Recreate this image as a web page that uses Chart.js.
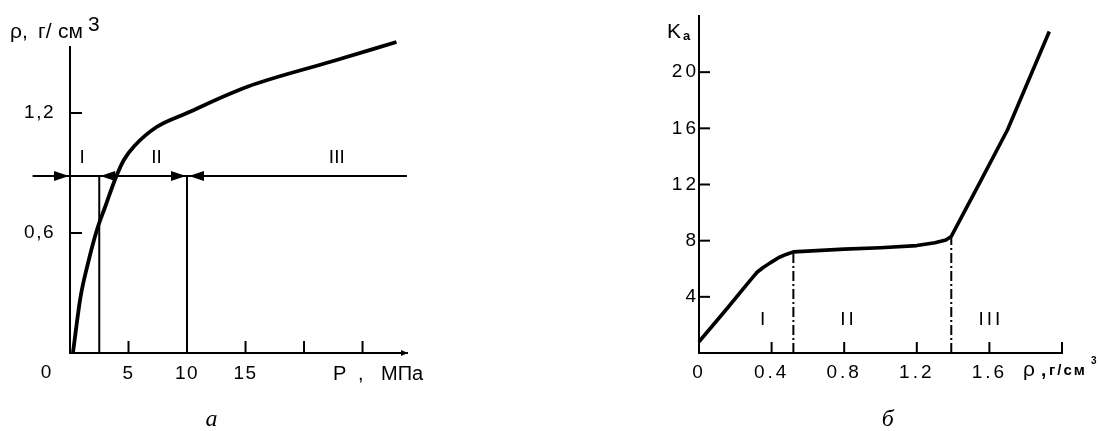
<!DOCTYPE html>
<html><head><meta charset="utf-8">
<script src="https://cdn.jsdelivr.net/npm/chart.js@4.4.1/dist/chart.umd.min.js"></script>
<style>
html,body{margin:0;padding:0;background:#fff;width:1098px;height:431px;overflow:hidden}
canvas{position:absolute;top:0}
#c1{left:0}
#c2{left:640px}
</style></head><body>
<canvas id="c1" width="440" height="431"></canvas>
<canvas id="c2" width="458" height="431"></canvas>
<script>
// ---------- Chart "а": density vs pressure ----------
const pressureP   = [0.25, 0.9, 1.5, 2.3, 3.0, 3.9, 4.6, 5.5, 7.4, 10.0, 15.1, 22.5, 27.9];
const densityRho  = [0.0, 0.28, 0.44, 0.615, 0.73, 0.875, 0.965, 1.035, 1.13, 1.2, 1.33, 1.46, 1.555];
const pTicks      = [0, 5, 10, 15, 20, 25];
const pTickLabels = ['', '5', '10', '15', '', ''];
const rhoTicks      = [0.6, 1.2];
const rhoTickLabels = ['0,6', '1,2'];
const zoneBoundaryP = [2.5, 10];
const zoneLevelRho  = 0.885;
const zoneLineP     = [-3.2, 28.8];
const zoneNames     = ['I', 'II', 'III'];

// ---------- Chart "б": Ka vs density ----------
const densityX    = [0, 0.15, 0.29, 0.32, 0.35, 0.39, 0.44, 0.48, 0.52, 0.8, 1.0, 1.2, 1.3, 1.36, 1.39, 1.55, 1.70, 1.93];
const kaValues    = [0.8, 3.1, 5.3, 5.75, 6.05, 6.4, 6.8, 7.02, 7.2, 7.4, 7.5, 7.65, 7.85, 8.05, 8.3, 12.2, 15.9, 22.9];
const rhoXTicks      = [0, 0.4, 0.8, 1.2, 1.6, 2.0];
const rhoXTickLabels = ['0', '0.4', '0.8', '1.2', '1.6', ''];
const kaTicks        = [4, 8, 12, 16, 20];
const kaTickLabels   = ['4', '8', '12', '16', '20'];
const zoneBoundaryRho = [0.52, 1.39];
const zoneBoundaryKa  = [7.2, 8.3];

// label anchor positions (data units)
const leftZoneLabelAt  = {x: [1.03, 7.4, 22.8], y: 0.975};
const rightZoneLabelAt = {x: [0.35, 0.815, 1.60], y: 2.4};

const FONT = "'Liberation Sans', Arial, sans-serif";
Chart.defaults.font.family = FONT;
Chart.defaults.color = '#000';
const INK = '#000';

function fixTicks(values){ return s => { s.ticks = values.map(v => ({value: v})); }; }
function line(ctx,x1,y1,x2,y2,w){ ctx.beginPath(); ctx.lineWidth=w; ctx.strokeStyle=INK; ctx.moveTo(x1,y1); ctx.lineTo(x2,y2); ctx.stroke(); }
function arrow(ctx, tx, ty, dir, len, hw){
  ctx.beginPath(); ctx.fillStyle=INK;
  ctx.moveTo(tx, ty); ctx.lineTo(tx - dir*len, ty - hw); ctx.lineTo(tx - dir*len, ty + hw); ctx.closePath(); ctx.fill();
}
function txt(ctx, s, x, y, font, align, base){
  ctx.font = font; ctx.fillStyle = INK; ctx.textAlign = align || 'left'; ctx.textBaseline = base || 'alphabetic';
  ctx.fillText(s, x, y);
}

// ---------- left chart ----------
const leftPlugin = {
  id: 'leftDecor',
  beforeDraw(chart){ chart.ctx.letterSpacing = '1.5px'; },
  afterDraw(chart){
    const {ctx, chartArea: a, scales: {x, y}} = chart;
    ctx.save();
    ctx.letterSpacing = '0px';
    // inward ticks
    pTicks.forEach(v => { if (v > 0) { const p = x.getPixelForValue(v); line(ctx, p, a.bottom, p, a.bottom - 12, 2); } });
    rhoTicks.forEach(v => { const p = y.getPixelForValue(v); line(ctx, a.left, p, a.left + 12, p, 2); });
    // arrows on zone line
    const yl = y.getPixelForValue(zoneLevelRho);
    arrow(ctx, x.getPixelForValue(0) - 1, yl, 1, 15, 5);
    arrow(ctx, x.getPixelForValue(zoneBoundaryP[0]) + 1, yl, -1, 15, 5);
    arrow(ctx, x.getPixelForValue(zoneBoundaryP[1]) - 1, yl, 1, 15, 5);
    arrow(ctx, x.getPixelForValue(zoneBoundaryP[1]) + 2, yl, -1, 15, 5);
    // x-axis end arrow
    arrow(ctx, a.right + 1, a.bottom, 1, 7, 3);
    // zone names
    zoneNames.forEach((n, i) => txt(ctx, n, x.getPixelForValue(leftZoneLabelAt.x[i]), y.getPixelForValue(leftZoneLabelAt.y), '19px ' + FONT, 'center', 'middle'));
    // origin label
    txt(ctx, '0', a.left - 24, a.bottom + 20, '19px ' + FONT, 'center', 'middle');
    // axis titles
    txt(ctx, 'P', a.left + 263, a.bottom + 27, '20px ' + FONT);
    txt(ctx, ',', a.left + 288, a.bottom + 27, '20px ' + FONT);
    txt(ctx, 'МПа', a.left + 311, a.bottom + 27, '20px ' + FONT);
    txt(ctx, 'ρ,', a.left - 60, a.top - 9, '21px ' + FONT);
    txt(ctx, 'г/', a.left - 32, a.top - 9, '21px ' + FONT);
    txt(ctx, 'см', a.left - 12, a.top - 9, '21px ' + FONT);
    txt(ctx, '3', a.left + 18, a.top - 16, '21px ' + FONT);
    // caption
    txt(ctx, 'а', x.getPixelForValue(12.1), 426, 'italic 24px "Liberation Serif", serif', 'center');
    ctx.restore();
  }
};

new Chart(document.getElementById('c1'), {
  type: 'line',
  data: {
    datasets: [
      { data: pressureP.map((p, i) => ({x: p, y: densityRho[i]})), borderColor: INK, borderWidth: 3.8,
        cubicInterpolationMode: 'monotone', pointRadius: 0, clip: false },
      { data: zoneLineP.map(p => ({x: p, y: zoneLevelRho})), borderColor: INK, borderWidth: 2, pointRadius: 0, clip: false },
      { data: [{x: zoneBoundaryP[0], y: 0}, {x: zoneBoundaryP[0], y: zoneLevelRho}], borderColor: INK, borderWidth: 2, pointRadius: 0 },
      { data: [{x: zoneBoundaryP[1], y: 0}, {x: zoneBoundaryP[1], y: zoneLevelRho}], borderColor: INK, borderWidth: 2, pointRadius: 0 }
    ]
  },
  options: {
    responsive: false, animation: false,
    layout: { padding: { top: 47, right: 33, left: 0, bottom: 0 } },
    plugins: { legend: { display: false }, tooltip: { enabled: false } },
    scales: {
      x: { type: 'linear', min: 0, max: 28.8,
        afterBuildTicks: fixTicks(pTicks), afterFit: s => { s.height = 78; },
        grid: { display: false, drawTicks: false }, border: { display: true, color: INK, width: 2 },
        ticks: { autoSkip: false, maxRotation: 0, padding: 9, font: { size: 19 }, color: INK,
          callback: (v, i) => pTickLabels[i] } },
      y: { type: 'linear', min: 0, max: 1.53,
        afterBuildTicks: fixTicks(rhoTicks), afterFit: s => { s.width = 70; },
        grid: { display: false, drawTicks: false }, border: { display: true, color: INK, width: 2 },
        ticks: { autoSkip: false, padding: 15, font: { size: 19 }, color: INK,
          callback: (v, i) => rhoTickLabels[i] } }
    }
  },
  plugins: [leftPlugin]
});

// ---------- right chart ----------
const rightPlugin = {
  id: 'rightDecor',
  beforeDraw(chart){ chart.ctx.letterSpacing = '3px'; },
  afterDraw(chart){
    const {ctx, chartArea: a, scales: {x, y}} = chart;
    ctx.save();
    ctx.letterSpacing = '0px';
    rhoXTicks.forEach(v => { if (v > 0) { const p = x.getPixelForValue(v); line(ctx, p, a.bottom, p, a.bottom - 11, 2); } });
    kaTicks.forEach(v => { const p = y.getPixelForValue(v); line(ctx, a.left, p, a.left + 11, p, 2); });
    ctx.letterSpacing = '3px';
    zoneNames.forEach((n, i) => txt(ctx, n, x.getPixelForValue(rightZoneLabelAt.x[i]) + 1.5, y.getPixelForValue(rightZoneLabelAt.y), '19px ' + FONT, 'center', 'middle'));
    ctx.letterSpacing = '0px';
    txt(ctx, 'K', a.left - 32, a.top + 22, '21px ' + FONT);
    txt(ctx, 'a', a.left - 16, a.top + 24, 'bold 13px ' + FONT);
    txt(ctx, 'ρ', a.right - 39, a.bottom + 23, '21px ' + FONT);
    txt(ctx, ',', a.right - 21, a.bottom + 23, 'bold 19px ' + FONT);
    ctx.letterSpacing = '2px';
    txt(ctx, 'г/см', a.right - 13, a.bottom + 22, 'bold 15px ' + FONT);
    ctx.letterSpacing = '0px';
    txt(ctx, '3', a.right + 29, a.bottom + 11, 'bold 10px ' + FONT);
    txt(ctx, 'б', x.getPixelForValue(1.04), 426, 'italic 24px "Liberation Serif", serif', 'center');
    ctx.restore();
  }
};

const dashStyle = [10, 3, 2, 3];
new Chart(document.getElementById('c2'), {
  type: 'line',
  data: {
    datasets: [
      { data: densityX.map((r, i) => ({x: r, y: kaValues[i]})), borderColor: INK, borderWidth: 3.6,
        tension: 0, borderJoinStyle: 'round', pointRadius: 0, clip: false },
      { data: [{x: zoneBoundaryRho[0], y: 0}, {x: zoneBoundaryRho[0], y: zoneBoundaryKa[0]}], borderColor: INK, borderWidth: 2, borderDash: dashStyle, pointRadius: 0 },
      { data: [{x: zoneBoundaryRho[1], y: 0}, {x: zoneBoundaryRho[1], y: zoneBoundaryKa[1]}], borderColor: INK, borderWidth: 2, borderDash: dashStyle, pointRadius: 0 }
    ]
  },
  options: {
    responsive: false, animation: false,
    layout: { padding: { top: 16, right: 36, left: 0, bottom: 0 } },
    plugins: { legend: { display: false }, tooltip: { enabled: false } },
    scales: {
      x: { type: 'linear', min: 0, max: 2.0,
        afterBuildTicks: fixTicks(rhoXTicks), afterFit: s => { s.height = 78; },
        grid: { display: false, drawTicks: false }, border: { display: true, color: INK, width: 2 },
        ticks: { autoSkip: false, maxRotation: 0, padding: 8, font: { size: 19 }, color: INK,
          callback: (v, i) => rhoXTickLabels[i] } },
      y: { type: 'linear', min: 0, max: 24,
        afterBuildTicks: fixTicks(kaTicks), afterFit: s => { s.width = 59; },
        grid: { display: false, drawTicks: false }, border: { display: true, color: INK, width: 2 },
        ticks: { autoSkip: false, padding: 0, font: { size: 19 }, color: INK,
          callback: (v, i) => kaTickLabels[i] } }
    }
  },
  plugins: [rightPlugin]
});
</script>
</body></html>
